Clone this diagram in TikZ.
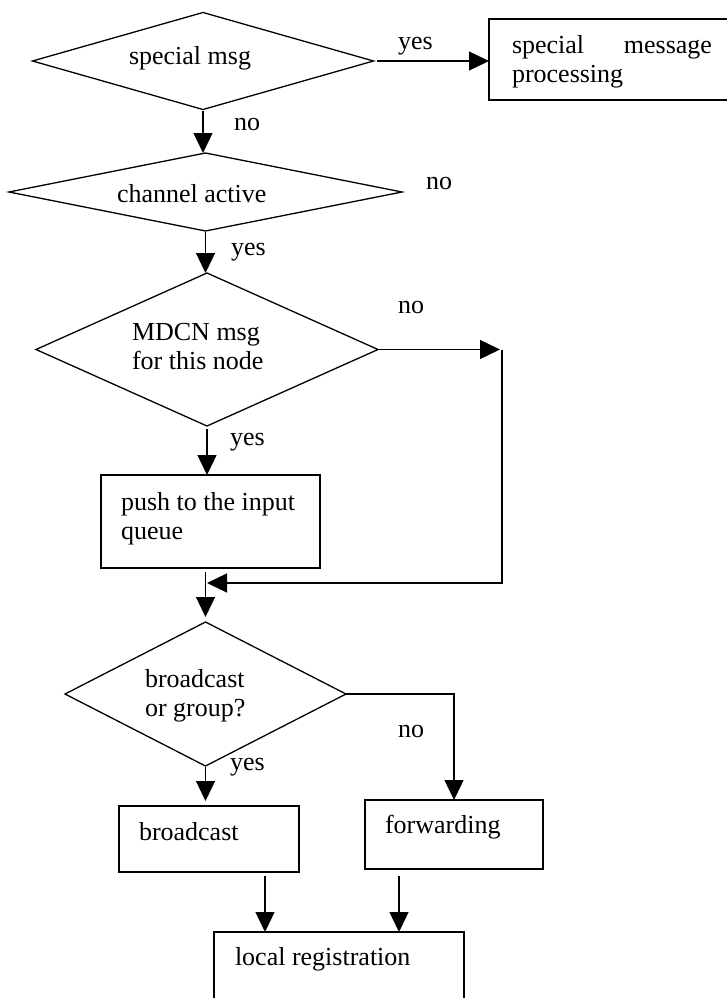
\documentclass[tikz,border=0pt]{standalone}
\usepackage{fontspec}
\setmainfont{Liberation Serif}
\usetikzlibrary{shapes.geometric,arrows.meta,calc}
\begin{document}
\begin{tikzpicture}[x=1pt,y=-1pt, line width=1.3pt,
  dec/.style={diamond, draw, inner sep=0pt, outer sep=0pt},
  box/.style={rectangle, draw, inner sep=0pt, outer sep=0pt, anchor=north west},
  txt/.style={anchor=base west, inner sep=0pt, outer sep=0pt, font=\fontsize{26}{29}\selectfont},
  arr/.style={-{Triangle[length=20pt,width=19pt]}},
]
\useasboundingbox (0,0) rectangle (726,998);

% decisions
\node[dec, minimum width=341pt, minimum height=97pt]  (d1) at (203,61) {};
\node[dec, minimum width=393pt, minimum height=78pt]  (d2) at (205.5,192) {};
\node[dec, minimum width=342pt, minimum height=153pt] (d3) at (207,349.5) {};
\node[dec, minimum width=281pt, minimum height=144pt] (d4) at (205.5,694) {};

% boxes
\node[box, minimum width=250pt, minimum height=81pt] (sp)   at (489,19) {};
\node[box, minimum width=219pt, minimum height=93pt] (push) at (101,475) {};
\node[box, minimum width=180pt, minimum height=66pt] (bc)   at (119,806) {};
\node[box, minimum width=178pt, minimum height=69pt] (fw)   at (365,800) {};
\node[box, minimum width=250pt, minimum height=90pt] (lr)   at (214,932) {};

% texts
\node[txt] (t1) at (129,65) {special msg};
\node[txt] (t2) at (117,202) {channel active};
\node[txt] (t3) at (132,340) {\begin{tabular}[t]{@{}l@{}}MDCN msg\\for this node\end{tabular}};
\node[txt] (t4) at (145,687) {\begin{tabular}[t]{@{}l@{}}broadcast\\or group?\end{tabular}};
\node[txt] (t5) at (512,53) {\parbox[t]{200pt}{\hyphenpenalty=10000 special message processing}};
\node[txt] (t6) at (121,510) {\begin{tabular}[t]{@{}l@{}}push to the input\\queue\end{tabular}};
\node[txt] (t7) at (139,840) {broadcast};
\node[txt] (t8) at (385,833) {forwarding};
\node[txt] (t9) at (235,965) {local registration};

% labels
\node[txt] (l1) at (398,50) {yes};
\node[txt] (l2) at (234,130) {no};
\node[txt] (l3) at (426,189) {no};
\node[txt] (l4) at (231,255) {yes};
\node[txt] (l5) at (398,313) {no};
\node[txt] (l6) at (230,445) {yes};
\node[txt] (l7) at (398,737) {no};
\node[txt] (l8) at (230,770) {yes};

% helper coordinates
\coordinate (j1) at (502,349.5);
\coordinate (j2) at (502,583);
\coordinate (m)  at (207,583);
\coordinate (b1) at ($(bc.south west)+(146,4)$);
\coordinate (f1) at ($(fw.south west)+(34,7)$);

% connectors
\draw[arr] ([xshift=3pt]d1.east) -- (d1.east -| sp.west);
\draw[arr] ([yshift=-1pt]d1.south) -- (d1.south |- d2.north);
\draw[arr] ([yshift=-1pt]d2.south) -- (d2.south |- d3.north);
\draw[arr] (d3.east) -- ([xshift=-2pt]j1);
\draw[arr] (j1) -- (j2) -- (m);
\draw[arr] ([yshift=-3pt]d3.south) -- ($(d3.south |- push.north)$);
\coordinate (p1) at ($(push.south -| d4.north)+(0,4)$);
\draw[arr] (p1) -- ($(d4.north)+(0,-5)$);
\draw[arr] ([yshift=-1pt]d4.south) -- ($(d4.south |- bc.north)+(0,-5)$);
\draw[arr] (d4.east) -| (fw.north);
\draw[arr] (b1) -- (b1 |- lr.north);
\draw[arr] (f1) -- (f1 |- lr.north);
\end{tikzpicture}
\end{document}
